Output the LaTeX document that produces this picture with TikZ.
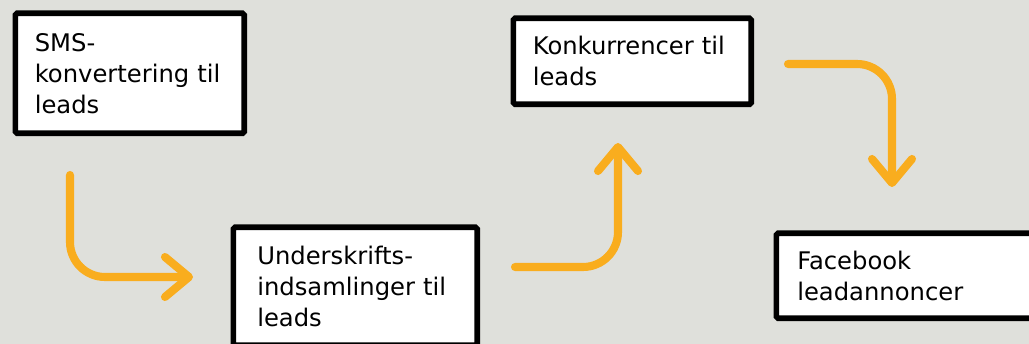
\documentclass[tikz,border=0pt]{standalone}
\usepackage{fontspec}
\usepackage{tikz}
\usetikzlibrary{arrows.meta,calc,positioning}
\newfontfamily\leadfont{DejaVu Sans}
\definecolor{slidegray}{RGB}{223,224,219}
\definecolor{flowyellow}{RGB}{249,173,30}
\tikzstyle{leadbox}=[draw=black,line width=3.2pt,fill=white,rounded corners=1pt,anchor=north west,align=left,inner sep=0pt,font={\leadfont\fontsize{13.8}{17.6}\selectfont}]
\tikzstyle{flow arrow}=[draw=flowyellow,line width=4.6pt,line cap=round,rounded corners=0.7cm,-{Straight Barb[length=0.48cm,width=0.8cm,round]}]

\begin{document}
\begin{tikzpicture}[x=0.02cm,y=-0.02cm]

		\useasboundingbox (0,0) rectangle (1029,344);
		\clip (0,0) rectangle (1029,344);
		\fill[slidegray] (0,0) rectangle (1029,344);

		% boxes
		\node(sms)[leadbox,minimum width=4.58cm,minimum height=2.40cm,text width=3.80cm] at (12.5,10.5) {SMS-\\konvertering til\\leads};
		\node(sign)[leadbox,minimum width=4.88cm,minimum height=2.36cm,text width=3.92cm] at (230.5,224.5) {Underskrifts-\\indsamlinger til\\leads};
		\node(comp)[leadbox,minimum width=4.76cm,minimum height=1.72cm,text width=3.98cm] at (510.5,15.5) {Konkurrencer til\\leads};
		\node(fb)[leadbox,minimum width=5.60cm,minimum height=1.70cm,text width=4.76cm] at (773.5,230.5) {Facebook\\leadannoncer};

		% arrow ends
		\coordinate (s1) at (70,175);
		\coordinate (e1) at (193,277);
		\coordinate (s2) at (515,267);
		\coordinate (e2) at (618,143);
		\coordinate (s3) at (788,64);
		\coordinate (e3) at (892,187);

		\draw[flow arrow] (s1) |- (e1);
		\draw[flow arrow] (s2) -| (e2);
		\draw[flow arrow] (s3) -| (e3);

\end{tikzpicture}
\end{document}
